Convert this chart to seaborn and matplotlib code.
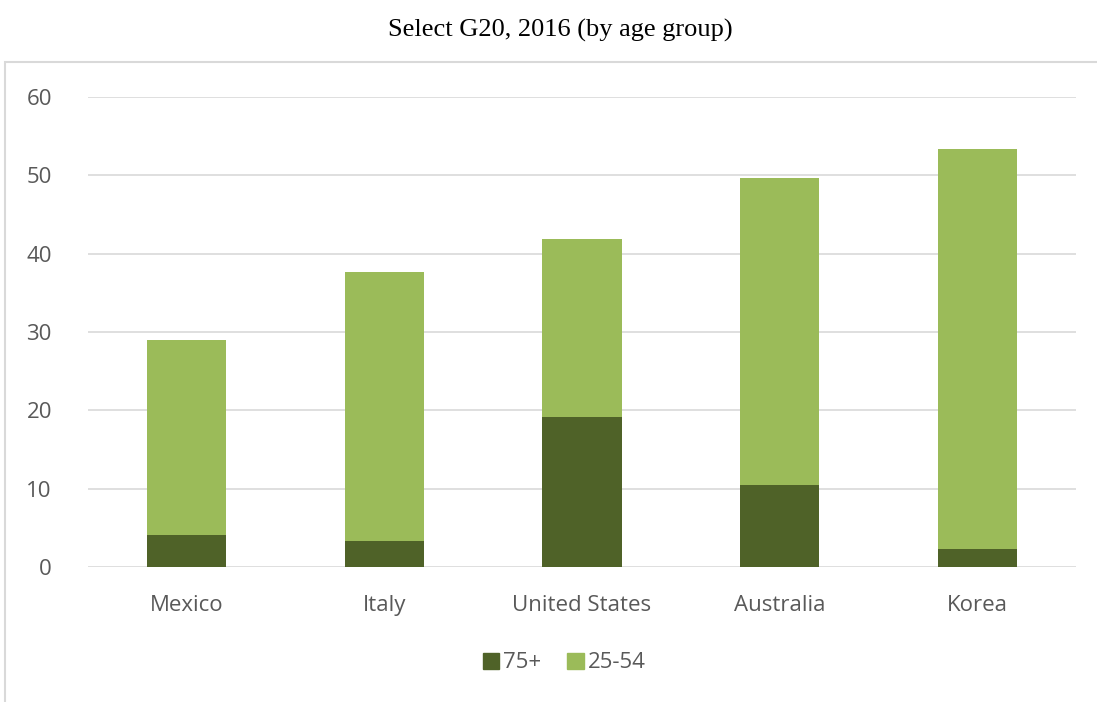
import matplotlib
matplotlib.use("Agg")
import matplotlib.pyplot as plt
import matplotlib.patches as mpatches
import numpy as np
import pandas as pd
import seaborn as sns

countries = ["Mexico", "Italy", "United States", "Australia", "Korea"]
age_75_plus = [4.1, 3.3, 19.2, 10.5, 2.3]
age_25_54 = [24.9, 34.4, 22.7, 39.1, 51.1]
y_ticks = [0, 10, 20, 30, 40, 50, 60]

dark_green = "#4f6228"
light_green = "#9bbb59"
text_grey = "#595959"

sns.set_theme(style="white")
plt.rcParams["font.family"] = ["Open Sans", "DejaVu Sans"]

df = pd.DataFrame({
    "country": countries,
    "75+": age_75_plus,
    "25-54": age_25_54,
})
df["total"] = df["75+"] + df["25-54"]

fig = plt.figure(figsize=(10.97, 7.02), dpi=100)
ax = fig.add_axes([88 / 1097, 1 - 567 / 702, (1076 - 88) / 1097, (567 - 97) / 702])

# stacked columns: full stack first, lower segment drawn over it
sns.barplot(data=df, x="country", y="total", color=light_green, width=0.4,
            saturation=1, linewidth=0, ax=ax, zorder=3)
sns.barplot(data=df, x="country", y="75+", color=dark_green, width=0.4,
            saturation=1, linewidth=0, ax=ax, zorder=4)

ax.set_xlim(-0.5, len(countries) - 0.5)
ax.set_ylim(0, 60)
ax.set_yticks(y_ticks)
ax.set_xlabel("")
ax.set_ylabel("")
ax.grid(axis="y", color="#d9d9d9", linewidth=1.2, zorder=0)
ax.grid(axis="x", visible=False)
for s in ax.spines.values():
    s.set_visible(False)
ax.tick_params(axis="both", length=0, labelsize=16, labelcolor=text_grey)
ax.tick_params(axis="y", pad=26)
ax.tick_params(axis="x", pad=20)

# outer chart frame
frame = mpatches.Rectangle((5 / 1097, -0.05), 1.2, 1 - 62 / 702 + 0.05,
                           transform=fig.transFigure, fill=False,
                           edgecolor="#d9d9d9", linewidth=1.5)
fig.patches.append(frame)

fig.text(560 / 1097, 1 - 30 / 702, "Select G20, 2016 (by age group)",
         ha="center", va="center", fontsize=19, color="black",
         family=["Liberation Serif", "DejaVu Serif"])

handles = [mpatches.Patch(color=dark_green, label="75+"),
           mpatches.Patch(color=light_green, label="25-54")]
fig.legend(handles=handles, loc="center", bbox_to_anchor=(564 / 1097, 1 - 663 / 702),
           ncol=2, frameon=False, fontsize=16, handlelength=0.75, handleheight=0.75,
           handletextpad=0.15, columnspacing=1.2, labelcolor=text_grey)

fig.savefig("out.png", dpi=100)
